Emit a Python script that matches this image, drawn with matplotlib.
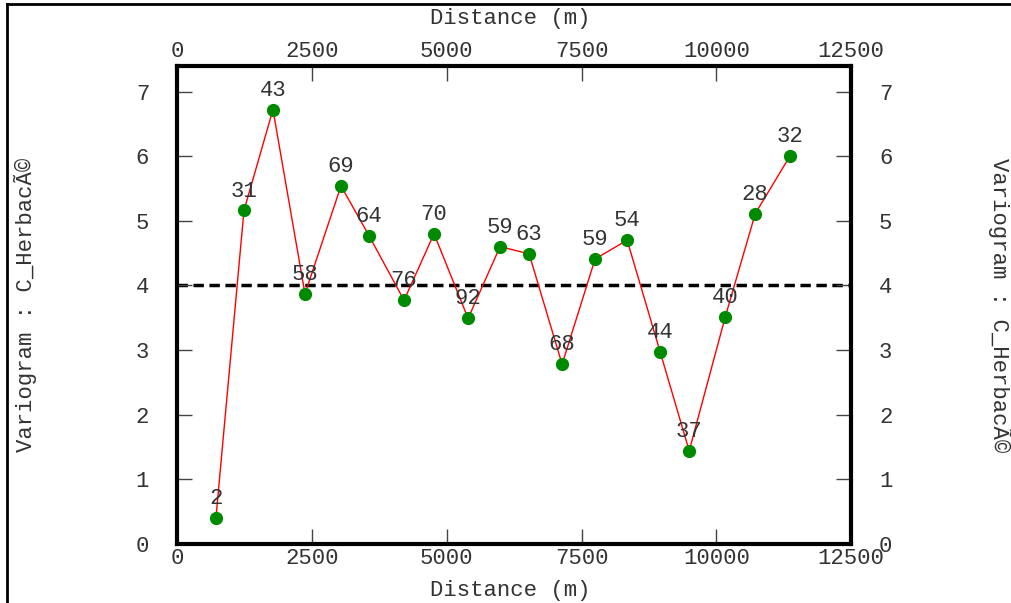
import matplotlib
matplotlib.use("Agg")
import matplotlib.pyplot as plt
from matplotlib.lines import Line2D

# lag distances (m), variogram values and pair counts
dist = [723, 1243, 1780, 2374, 3041, 3561, 4210, 4766, 5397, 5990,
        6528, 7140, 7752, 8346, 8958, 9496, 10163, 10720, 11369]
gamma = [0.40, 5.16, 6.72, 3.87, 5.54, 4.77, 3.77, 4.80, 3.49, 4.60,
         4.49, 2.78, 4.41, 4.70, 2.97, 1.44, 3.51, 5.11, 6.01]
pairs = [2, 31, 43, 58, 69, 64, 76, 70, 92, 59,
         63, 68, 59, 54, 44, 37, 40, 28, 32]
sill = 4.0

xticks = [0, 2500, 5000, 7500, 10000, 12500]
yticks = [0, 1, 2, 3, 4, 5, 6, 7]
ylabel = "Variogram : C_HerbacÃ©"

plt.rcParams['font.family'] = ['Liberation Mono', 'DejaVu Sans Mono']
txt = '#333333'
fs = 16

fig = plt.figure(figsize=(10.11, 6.03), dpi=100)
ax = fig.add_axes([0.175, 0.098, 0.667, 0.793])

ax.axhline(sill, color='black', lw=2.5, ls=(0, (3, 1.6)), zorder=1)
ax.plot(dist, gamma, color='red', lw=1, zorder=2)
ax.plot(dist, gamma, ls='none', marker='o', ms=8.5, color='#008a00', zorder=3)
for x, y, n in zip(dist, gamma, pairs):
    ax.annotate(str(n), (x, y), xytext=(0, 14), textcoords='offset points',
                ha='center', va='center', fontsize=fs, color=txt)

ax.set_xlim(0, 12500)
ax.set_ylim(0, 7.4)
ax.set_xticks(xticks)
ax.set_yticks(yticks)
ax.tick_params(direction='in', length=11, width=1, colors='#444444',
               labelcolor=txt, labelsize=fs, top=True, right=True,
               labeltop=True, labelright=True)
ax.tick_params(axis='x', pad=3)
ax.tick_params(axis='y', pad=20)
for s in ax.spines.values():
    s.set_linewidth(3)

fig.text(0.505, 0.970, "Distance (m)", fontsize=fs, color=txt, ha='center', va='center')
fig.text(0.505, 0.020, "Distance (m)", fontsize=fs, color=txt, ha='center', va='center')
fig.text(0.025, 0.494, ylabel, fontsize=fs, color=txt, ha='center', va='center', rotation=90)
fig.text(0.989, 0.494, ylabel, fontsize=fs, color=txt, ha='center', va='center', rotation=-90)

# frame lines around the picture
fig.add_artist(Line2D([0.007, 0.007], [0, 0.993], color='black', lw=2, transform=fig.transFigure))
fig.add_artist(Line2D([0.007, 1], [0.993, 0.993], color='black', lw=2, transform=fig.transFigure))

fig.savefig("out.png", dpi=100)
